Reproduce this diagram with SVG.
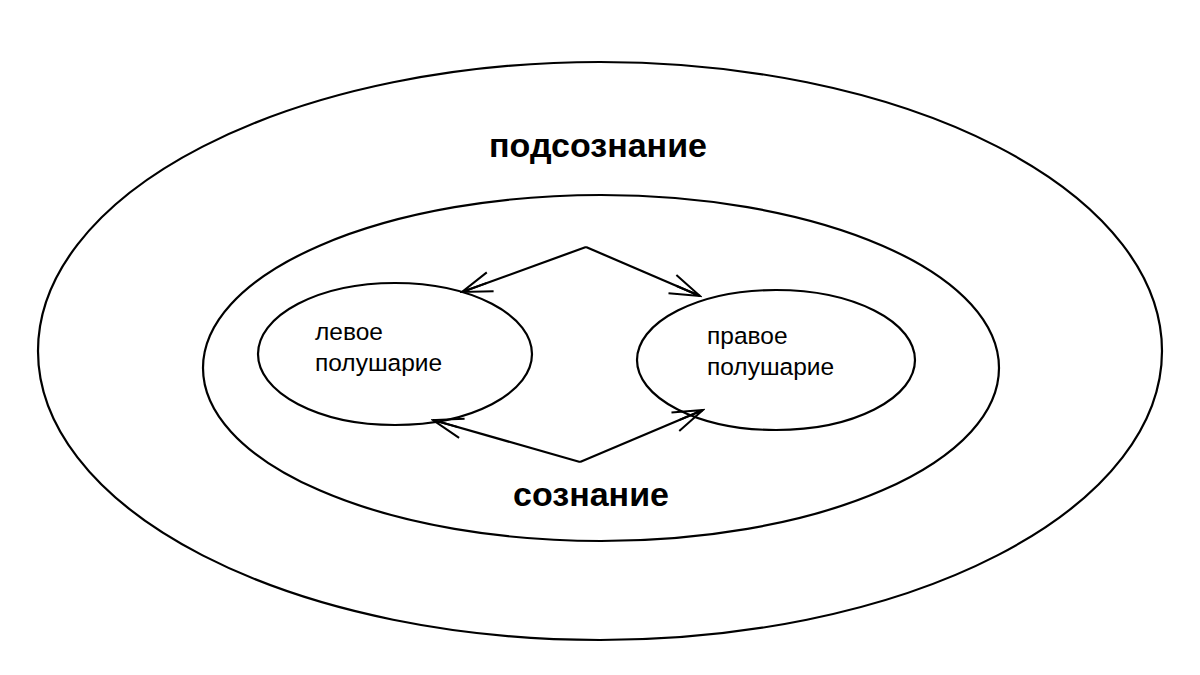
<svg xmlns="http://www.w3.org/2000/svg" width="1200" height="675" viewBox="0 0 1200 675">
<defs>
<style>
.e{fill:none;stroke:#000;stroke-width:2.2}
.c{fill:none;stroke:#000;stroke-width:2.2}
.big{font-family:"Liberation Sans",Arial,sans-serif;font-weight:bold;font-size:34px;fill:#000}
.sm{font-family:"Liberation Sans",Arial,sans-serif;font-size:24.5px;fill:#000}
</style>
<marker id="a" markerUnits="userSpaceOnUse" markerWidth="34" markerHeight="24" viewBox="0 0 34 24" refX="32" refY="12" orient="auto">
<path d="M2,2 L32,12 L2,22 M6,12 L32,12" fill="none" stroke="#000" stroke-width="2"/>
</marker>
</defs>
<rect width="1200" height="675" fill="#fff"/>
<g id="outer"><ellipse class="e" cx="600" cy="351" rx="562" ry="289"/><text class="big" x="598" y="157" text-anchor="middle">подсознание</text></g>
<g id="inner"><ellipse class="e" cx="601" cy="368" rx="398" ry="173"/><text class="big" x="591" y="506" text-anchor="middle">сознание</text></g>
<g id="left"><ellipse class="e" cx="395" cy="354" rx="137" ry="71"/><text class="sm" x="315" y="340">левое</text><text class="sm" x="315" y="371">полушарие</text></g>
<g id="right"><ellipse class="e" cx="776" cy="360" rx="139" ry="70"/><text class="sm" x="707" y="344">правое</text><text class="sm" x="707" y="375">полушарие</text></g>
<g id="connectors">
<path class="c" d="M586,247 L462,292" marker-end="url(#a)"/>
<path class="c" d="M586,247 L700,296" marker-end="url(#a)"/>
<path class="c" d="M580,462 L433,420" marker-end="url(#a)"/>
<path class="c" d="M580,462 L703,410" marker-end="url(#a)"/>
</g>
</svg>
